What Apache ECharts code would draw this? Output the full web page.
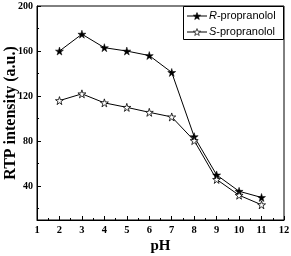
<!DOCTYPE html>
<html>
<head>
<meta charset="utf-8">
<script src="https://cdn.jsdelivr.net/npm/echarts@6/dist/echarts.min.js"></script>
<style>html,body{margin:0;padding:0;background:#fff}#c{width:291px;height:256px}</style>
</head>
<body>
<div id="c"></div>
<script>
var pH = [2, 3, 4, 5, 6, 7, 8, 9, 10, 11];
var rValues = [160, 175, 163, 160, 156, 141, 84, 50, 35.5, 30];
var sValues = [116, 122, 114, 110, 105.6, 101.5, 80.5, 46, 32, 23.5];
var seriesNames = ['R-propranolol', 'S-propranolol'];
var xTickLabels = [1, 2, 3, 4, 5, 6, 7, 8, 9, 10, 11, 12];
var yTickLabels = [40, 80, 120, 160, 200];
var xMinorTicks = [1.5, 2.5, 3.5, 4.5, 5.5, 6.5, 7.5, 8.5, 9.5, 10.5, 11.5];
var yMinorTicks = [20, 60, 100, 140, 180];

var star = 'path://M50,0 L61,35 L98,35 L68,57 L79,91 L50,70 L21,91 L32,57 L2,35 L39,35 Z';
function pairs(xs, ys) { return xs.map(function (x, i) { return [x, ys[i]]; }); }
function starPoints(cx, cy, r) {
  var pts = [];
  for (var k = 0; k < 10; k++) {
    var a = -Math.PI / 2 + k * Math.PI / 5;
    var rr = k % 2 === 0 ? r : r * 0.4;
    pts.push([cx + rr * Math.cos(a), cy + rr * Math.sin(a) + r * 0.1]);
  }
  return pts;
}

var serif = '"Liberation Serif", "Times New Roman", serif';
var sans = '"Liberation Sans", Arial, sans-serif';

function legendRow(y, name, filled) {
  return [
    { type: 'line', shape: { x1: 187, y1: y, x2: 207, y2: y }, style: { stroke: '#000', lineWidth: 1 } },
    { type: 'polygon', shape: { points: starPoints(197, y, 3.8) },
      style: { fill: filled ? '#000' : '#fff', stroke: '#000', lineWidth: 0.7 } },
    { type: 'text', x: 209, y: y, style: {
        text: '{i|' + name.charAt(0) + '}{n|' + name.slice(1) + '}',
        verticalAlign: 'middle', align: 'left',
        rich: {
          i: { fontFamily: sans, fontSize: 11, fontStyle: 'italic', fill: '#000' },
          n: { fontFamily: sans, fontSize: 11, fill: '#000' }
        }
      } }
  ];
}

var chart = echarts.init(document.getElementById('c'), null, { renderer: 'canvas' });
chart.setOption({
  animation: false,
  backgroundColor: '#fff',
  grid: { left: 37, right: 7, top: 6, bottom: 36, containLabel: false, outerBoundsMode: 'none',
          show: true, borderColor: '#000', borderWidth: 1, backgroundColor: 'transparent' },
  graphic: [{
    type: 'group', z: 100,
    children: [
      { type: 'rect', shape: { x: 183.5, y: 6.5, width: 100, height: 33 }, style: { fill: '#fff', stroke: '#000', lineWidth: 1 } }
    ].concat(legendRow(16, seriesNames[0], true)).concat(legendRow(32, seriesNames[1], false))
  }],
  xAxis: [{
    type: 'value', min: 1, max: 12, interval: 1,
    name: 'pH', nameLocation: 'middle', nameGap: 19, nameMoveOverlap: false,
    nameTextStyle: { fontFamily: serif, fontWeight: 'bold', fontSize: 15, color: '#000' },
    axisLine: { show: true, onZero: false, lineStyle: { color: '#000', width: 1 } },
    axisTick: { show: true, inside: true, length: 4, lineStyle: { color: '#000' }, customValues: xTickLabels },
    axisLabel: { fontFamily: serif, fontWeight: 'bold', fontSize: 10.5, color: '#000', margin: 5, customValues: xTickLabels },
    splitLine: { show: false }
  }, {
    type: 'value', min: 1, max: 12, position: 'bottom',
    axisLine: { show: false },
    axisTick: { show: true, inside: true, length: 2, lineStyle: { color: '#000' }, customValues: xMinorTicks },
    axisLabel: { show: false },
    splitLine: { show: false }
  }],
  yAxis: [{
    type: 'value', min: 10, max: 200,
    name: 'RTP intensity (a.u.)', nameLocation: 'middle', nameGap: 18, nameMoveOverlap: false,
    nameTextStyle: { fontFamily: serif, fontWeight: 'bold', fontSize: 16, color: '#000' },
    axisLine: { show: true, onZero: false, lineStyle: { color: '#000', width: 1 } },
    axisTick: { show: true, inside: true, length: 4, lineStyle: { color: '#000' }, customValues: yTickLabels },
    axisLabel: { fontFamily: serif, fontWeight: 'bold', fontSize: 10, color: '#000', margin: 4, customValues: yTickLabels },
    splitLine: { show: false }
  }, {
    type: 'value', min: 10, max: 200, position: 'left',
    axisLine: { show: false },
    axisTick: { show: true, inside: true, length: 2, lineStyle: { color: '#000' }, customValues: yMinorTicks },
    axisLabel: { show: false },
    splitLine: { show: false }
  }],
  series: [{
    name: seriesNames[0], type: 'line', data: pairs(pH, rValues),
    symbol: star, symbolSize: 8, showAllSymbol: true,
    lineStyle: { color: '#000', width: 1 },
    itemStyle: { color: '#000', borderColor: '#000', borderWidth: 0.5 }
  }, {
    name: seriesNames[1], type: 'line', data: pairs(pH, sValues),
    symbol: star, symbolSize: 8, showAllSymbol: true,
    lineStyle: { color: '#000', width: 1 },
    itemStyle: { color: '#fff', borderColor: '#000', borderWidth: 0.8 }
  }]
});
</script>
</body>
</html>
